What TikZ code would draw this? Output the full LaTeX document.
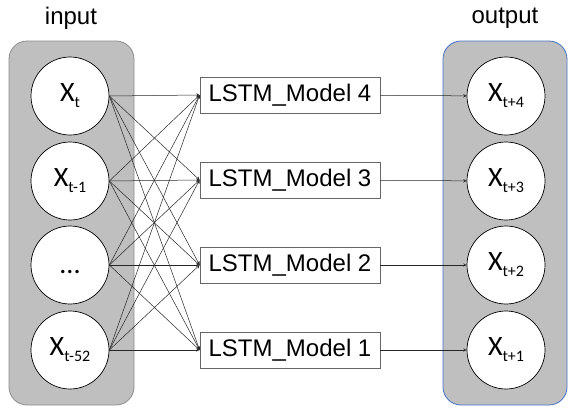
\documentclass[tikz,border=0pt]{standalone}
\usepackage{fontspec}
\setmainfont{Liberation Sans}
\newfontfamily\calibri{Carlito}
\definecolor{panelblue}{HTML}{4472C4}
\newcommand{\xlab}[1]{X\raisebox{-6pt}{\fontsize{16}{18}\selectfont #1}}
\begin{document}
\begin{tikzpicture}
[x=1pt, y=-1pt, >=stealth,
 unit/.style={circle, draw=black, fill=white, line width=0.7pt, minimum size=78pt, inner sep=0pt, font=\calibri\fontsize{28}{32}\selectfont},
 lstm/.style={draw=black!60, fill=white, line width=0.8pt, minimum width=180pt, minimum height=36pt, inner sep=0pt, font=\fontsize{24}{28}\selectfont},
 panel/.style={fill=black!25, rounded corners=18pt, line width=0.8pt},
 link/.style={->, black!85, line width=0.5pt}]
\useasboundingbox (0,0) rectangle (582,413);
\draw[panel, draw=black!45] (9,41) rectangle (134,405);
\draw[panel, draw=panelblue] (443,41) rectangle (567,405);
\node (input) at (71,18) [font=\fontsize{24}{28}\selectfont] {input};
\node (output) at (505,18) [font=\fontsize{24}{28}\selectfont] {output};

\node (Xt) at (70,96) [unit] {\xlab{t}};
\node (Xt1) at (70,181) [unit] {\xlab{t-1}};
\node (Xdots) at (70,265) [unit] {\smash{\raisebox{-8pt}{...}}};
\node (Xt52) at (70,350) [unit] {\xlab{t-52}};

\node (M4) at (290,95) [lstm] {LSTM\_Model 4};
\node (M3) at (290,180) [lstm] {LSTM\_Model 3};
\node (M2) at (290,265) [lstm] {LSTM\_Model 2};
\node (M1) at (290,350) [lstm] {LSTM\_Model 1};

\node (Y4) at (506,96) [unit] {\xlab{t+4}};
\node (Y3) at (506,181) [unit] {\xlab{t+3}};
\node (Y2) at (506,265) [unit] {\xlab{t+2}};
\node (Y1) at (506,350) [unit] {\xlab{t+1}};

\draw[link] (Xt.east) -- (M4.west);   \draw[link] (Xt.east) -- (M3.west);
\draw[link] (Xt.east) -- (M2.west);   \draw[link] (Xt.east) -- (M1.west);
\draw[link] (Xt1.east) -- (M4.west);  \draw[link] (Xt1.east) -- (M3.west);
\draw[link] (Xt1.east) -- (M2.west);  \draw[link] (Xt1.east) -- (M1.west);
\draw[link] (Xdots.east) -- (M4.west); \draw[link] (Xdots.east) -- (M3.west);
\draw[link] (Xdots.east) -- (M2.west); \draw[link] (Xdots.east) -- (M1.west);
\draw[link] (Xt52.east) -- (M4.west); \draw[link] (Xt52.east) -- (M3.west);
\draw[link] (Xt52.east) -- (M2.west); \draw[link] (Xt52.east) -- (M1.west);

\draw[link] (M4) -- (Y4);
\draw[link] (M3) -- (Y3);
\draw[link] (M2) -- (Y2);
\draw[link] (M1) -- (Y1);
\end{tikzpicture}
\end{document}
